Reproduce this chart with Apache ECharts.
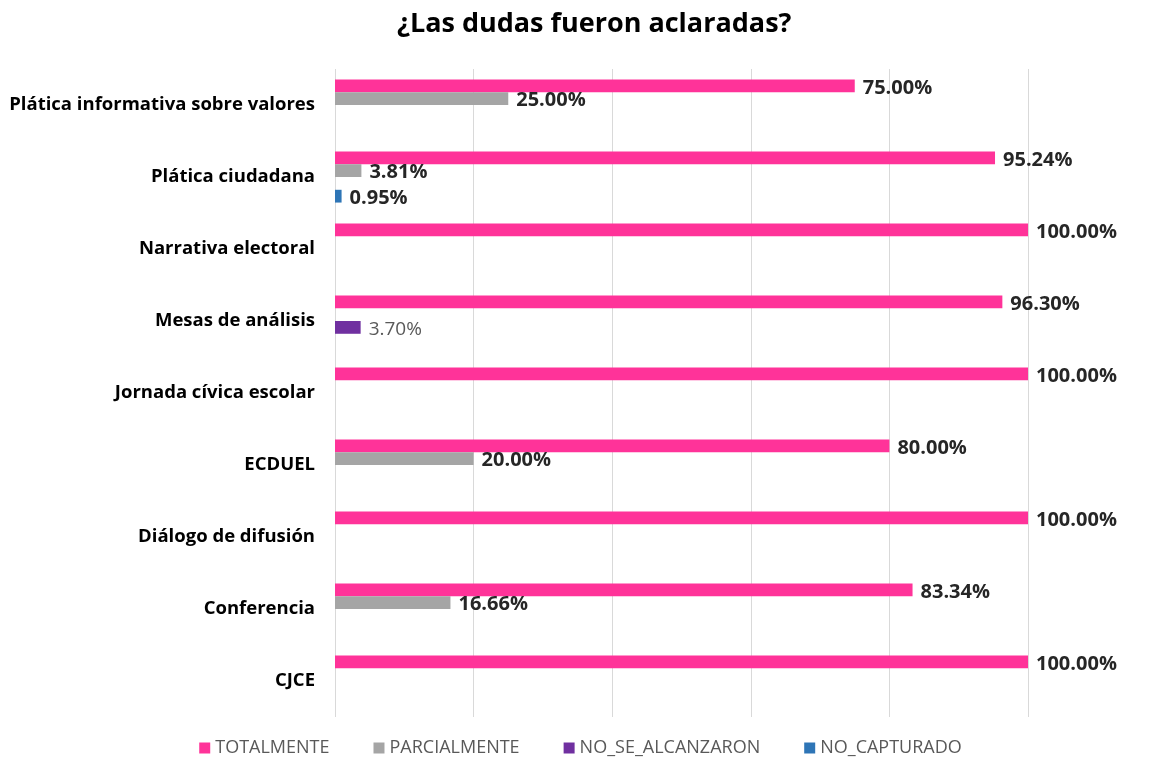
<!DOCTYPE html>
<html>
<head>
<meta charset="utf-8">
<script src="https://cdn.jsdelivr.net/npm/echarts@6/dist/echarts.min.js"></script>
<style>
  html, body { margin: 0; padding: 0; background: #fff; }
  #chart { width: 1161px; height: 764px; }
</style>
</head>
<body>
<div id="chart"></div>
<script>
// categorias de arriba hacia abajo
const categorias = ['Plática informativa sobre valores', 'Plática ciudadana', 'Narrativa electoral', 'Mesas de análisis',
  'Jornada cívica escolar', 'ECDUEL', 'Diálogo de difusión', 'Conferencia', 'CJCE']
const totalmente = [75.00, 95.24, 100.00, 96.30, 100.00, 80.00, 100.00, 83.34, 100.00]
const parcialmente = [25.00, 3.81, 0, 0, 0, 20.00, 0, 16.66, 0]
const noSeAlcanzaron = [0, 0, 0, 3.70, 0, 0, 0, 0, 0]
const noCapturado = [0, 0.95, 0, 0, 0, 0, 0, 0, 0]

const colores = ['#FF3399', '#A5A5A5', '#7030A0', '#2E75B6']
const fuente = "'Open Sans', 'Noto Sans', sans-serif"

// etiqueta negrita a la derecha, se oculta cuando vale 0
function etiqueta(extra) {
  return Object.assign({
    show: true,
    position: 'right',
    distance: 8,
    offset: [0, 2],
    fontFamily: fuente,
    fontWeight: 'bold',
    fontSize: 20,
    color: '#262626',
    formatter: p => (p.value ? p.value.toFixed(2) + '%' : '')
  }, extra || {})
}

function serie(nombre, datos, color, extra) {
  return {
    name: nombre,
    type: 'bar',
    data: datos,
    barGap: '0%',
    barCategoryGap: '29%',
    itemStyle: { color: color },
    label: etiqueta(extra)
  }
}

const myChart = echarts.init(document.getElementById('chart'))
myChart.setOption({
  animation: false,
  textStyle: { fontFamily: fuente },
  title: {
    text: '¿Las dudas fueron aclaradas?',
    left: 392,
    top: 6,
    textStyle: { fontFamily: fuente, fontSize: 27, fontWeight: 'bold', color: '#000' }
  },
  legend: {
    bottom: 2,
    left: 'center',
    itemWidth: 11,
    itemHeight: 11,
    itemGap: 44,
    icon: 'rect',
    textStyle: { fontFamily: fuente, fontSize: 18, color: '#595959' },
    data: ['TOTALMENTE', 'PARCIALMENTE', 'NO_SE_ALCANZARON', 'NO_CAPTURADO']
  },
  grid: { left: 335, right: 133, top: 69, bottom: 47, containLabel: false },
  xAxis: {
    type: 'value',
    min: 0,
    max: 100,
    interval: 20,
    axisLabel: { show: false },
    axisLine: { show: false },
    axisTick: { show: false },
    splitLine: { show: true, lineStyle: { color: '#D9D9D9', width: 1 } }
  },
  yAxis: {
    type: 'category',
    inverse: true,
    data: categorias,
    axisLine: { show: false },
    axisTick: { show: false },
    axisLabel: { margin: 20, fontFamily: fuente, fontSize: 18.5, fontWeight: 'bold', color: '#000' }
  },
  series: [
    serie('TOTALMENTE', totalmente, colores[0]),
    serie('PARCIALMENTE', parcialmente, colores[1]),
    serie('NO_SE_ALCANZARON', noSeAlcanzaron, colores[2], { fontWeight: 'normal', color: '#595959', fontSize: 19 }),
    serie('NO_CAPTURADO', noCapturado, colores[3])
  ]
})
</script>
</body>
</html>
